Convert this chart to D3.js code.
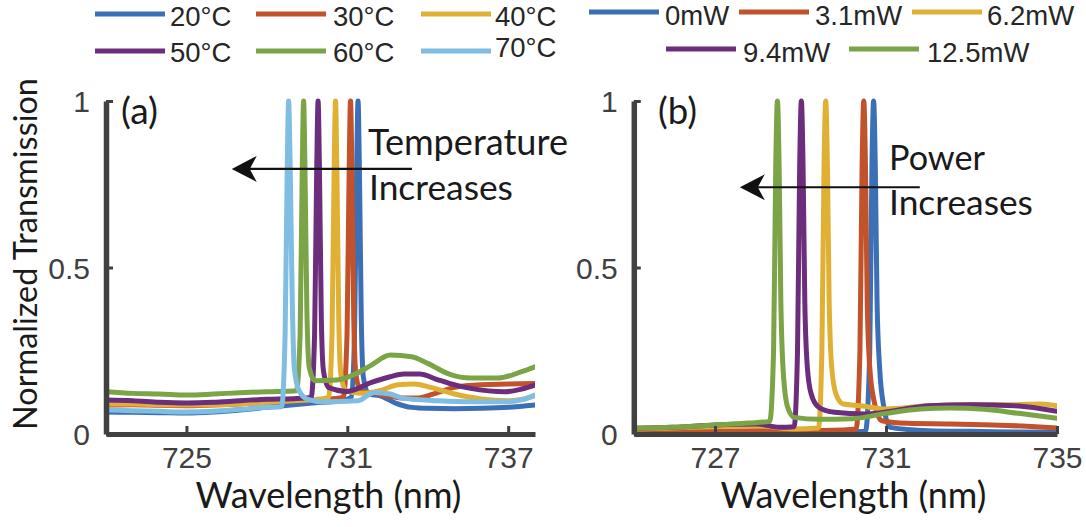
<!DOCTYPE html>
<html><head><meta charset="utf-8">
<script src="https://cdn.jsdelivr.net/npm/d3@7"></script>
<style>html,body{margin:0;padding:0;background:#fff;}svg{display:block;}</style>
</head><body>
<svg id="chart" width="1086" height="527"></svg>
<script>
// ---------- DATA ----------
const tempLabels = ["20°C","30°C","40°C","50°C","60°C","70°C"];
const powerLabels = ["0mW","3.1mW","6.2mW","9.4mW","12.5mW"];
const ticksA = [725, 731, 737];
const ticksB = [727, 731, 735];
const yTicks = [0, 0.5, 1];
const yTickLabels = ["0", "0.5", "1"];

// Panel (a): [wavelength nm, normalized transmission]
const t20 = [[722,0.066],[723,0.065],[724,0.064],[725,0.063],[726,0.066],[727,0.072],[728,0.08],[729,0.088],[730,0.095],[730.8,0.1],[731.15,0.11],[731.27,0.3],[731.35,0.8],[731.40,1.0],[731.45,0.8],[731.52,0.35],[731.6,0.17],[731.8,0.12],[732.2,0.115],[732.8,0.093],[733.4,0.08],[734,0.077],[735,0.076],[736,0.077],[737,0.08],[738,0.087]];
const t30 = [[722,0.087],[723,0.088],[724,0.086],[725,0.085],[726,0.087],[727,0.09],[728,0.095],[729,0.1],[730,0.103],[730.85,0.11],[730.99,0.3],[731.07,0.8],[731.12,1.0],[731.17,0.8],[731.24,0.35],[731.32,0.18],[731.5,0.13],[732,0.122],[732.5,0.115],[733,0.108],[733.6,0.108],[734.2,0.12],[735,0.14],[736,0.148],[737,0.15],[738,0.152]];
const t40 = [[722,0.09],[723,0.09],[724,0.088],[725,0.087],[726,0.088],[727,0.09],[728,0.095],[729,0.1],[730,0.105],[730.3,0.11],[730.43,0.3],[730.51,0.8],[730.56,1.0],[730.61,0.8],[730.68,0.35],[730.76,0.18],[730.95,0.13],[731.5,0.122],[732.2,0.13],[732.9,0.148],[733.5,0.15],[734.1,0.14],[735,0.12],[736,0.105],[737,0.1],[737.6,0.105],[738,0.115]];
const t50 = [[722,0.102],[723,0.1],[724,0.095],[725,0.093],[726,0.095],[727,0.1],[728,0.104],[729,0.106],[729.65,0.11],[729.78,0.3],[729.86,0.8],[729.91,1.0],[729.96,0.8],[730.03,0.35],[730.11,0.19],[730.3,0.14],[731,0.128],[731.9,0.155],[732.6,0.172],[733.1,0.18],[733.7,0.18],[734.3,0.165],[734.8,0.152],[735.6,0.137],[736.9,0.127],[737.5,0.135],[738,0.147]];
const t60 = [[722,0.127],[723,0.122],[724,0.12],[725,0.117],[726,0.12],[727,0.124],[728,0.127],[729.1,0.13],[729.24,0.3],[729.32,0.8],[729.37,1.0],[729.42,0.8],[729.49,0.38],[729.58,0.2],[729.8,0.16],[730.6,0.162],[731.3,0.18],[731.9,0.207],[732.6,0.237],[733.4,0.232],[734,0.212],[734.8,0.18],[735.6,0.168],[736.6,0.168],[737.5,0.187],[738,0.202]];
const t70 = [[722,0.072],[723,0.07],[724,0.068],[725,0.066],[726,0.068],[727,0.074],[728,0.08],[728.55,0.082],[728.68,0.3],[728.76,0.8],[728.81,1.0],[728.87,0.8],[728.94,0.43],[729.02,0.2],[729.2,0.13],[729.5,0.105],[730.1,0.097],[731.4,0.1],[732,0.125],[732.6,0.12],[733.1,0.107],[734.4,0.1],[735.6,0.097],[736.9,0.097],[737.6,0.105],[738,0.117]];

// Panel (b)
const p0 = [[725.1,0.003],[726,0.003],[727,0.004],[728,0.004],[729,0.005],[730,0.006],[730.52,0.008],[730.62,0.25],[730.67,0.8],[730.71,1.0],[730.75,0.8],[730.79,0.4],[730.85,0.2],[730.95,0.08],[731.1,0.02],[732,0.01],[733,0.008],[734,0.006],[735,0.005]];
const p31 = [[725.1,0.005],[726,0.006],[727,0.008],[728,0.01],[729,0.01],[730,0.012],[730.3,0.015],[730.39,0.25],[730.44,0.8],[730.48,1.0],[730.52,0.8],[730.56,0.4],[730.62,0.2],[730.72,0.1],[730.9,0.04],[731.5,0.032],[732.5,0.03],[733.5,0.027],[734.5,0.022],[735,0.018]];
const p62 = [[725.1,0.015],[726,0.018],[727,0.022],[728,0.025],[728.8,0.015],[729.42,0.018],[729.5,0.25],[729.55,0.8],[729.59,1.0],[729.63,0.8],[729.67,0.4],[729.73,0.2],[729.83,0.12],[730.0,0.09],[730.4,0.085],[731,0.075],[732,0.085],[733,0.088],[734,0.088],[734.6,0.09],[735,0.085]];
const p94 = [[725.1,0.017],[726,0.02],[727,0.027],[728,0.03],[728.5,0.02],[728.85,0.022],[728.93,0.25],[728.98,0.8],[729.02,1.0],[729.06,0.8],[729.1,0.4],[729.16,0.2],[729.25,0.12],[729.43,0.08],[729.8,0.065],[730.5,0.06],[731.2,0.07],[732,0.085],[733,0.088],[734,0.085],[735,0.068]];
const p125 = [[725.1,0.017],[726,0.02],[727,0.027],[727.8,0.033],[728.28,0.038],[728.37,0.25],[728.42,0.8],[728.46,1.0],[728.5,0.8],[728.54,0.4],[728.6,0.18],[728.7,0.08],[728.85,0.05],[729.45,0.044],[730.2,0.046],[731,0.062],[731.8,0.075],[732.5,0.078],[733.3,0.074],[734.1,0.062],[735,0.047]];

const seriesA = [t20, t30, t40, t50, t60, t70];
const seriesB = [p0, p31, p62, p94, p125];

// ---------- STYLE ----------
const colors = ["#3b6fb6", "#c1522b", "#e0b035", "#6b2d7c", "#7aa445", "#7fbde3"];
const svg = d3.select("#chart");
const tickFont = "'Liberation Sans', Arial, sans-serif";
const annFont = "Lato, 'Open Sans', sans-serif";
const axisColor = "#404040";

const y = d3.scaleLinear().domain([0, 1]).range([434, 101]);
const xA = d3.scaleLinear().domain([722, 738]).range([106, 535]);
const xB = d3.scaleLinear().domain([725.1, 735]).range([633.8, 1057]);

function fit(sel, w) {
  const l = sel.node().getComputedTextLength();
  const fs = parseFloat(sel.attr("font-size"));
  sel.attr("font-size", (fs * w / l).toFixed(2));
}

function panel(x, xTicks, series, clipId) {
  const g = svg.append("g");
  svg.append("clipPath").attr("id", clipId).append("rect")
    .attr("x", x.range()[0]).attr("y", y(1) - 4)
    .attr("width", x.range()[1] - x.range()[0]).attr("height", y(0) - y(1) + 4);
  const line = d3.line().x(d => x(d[0])).y(d => y(d[1])).curve(d3.curveMonotoneX);
  const lg = g.append("g").attr("clip-path", `url(#${clipId})`);
  series.forEach((s, i) => {
    lg.append("path").datum(s).attr("d", line)
      .attr("fill", "none").attr("stroke", colors[i])
      .attr("stroke-width", 5).attr("stroke-linejoin", "round").attr("stroke-linecap", "round");
  });
  // x axis
  const ax = g.append("g").attr("transform", `translate(0,${y(0)})`)
    .call(d3.axisBottom(x).tickValues(xTicks).tickFormat(d3.format("d")).tickSizeInner(-8).tickSizeOuter(0).tickPadding(20));
  ax.select(".domain").attr("stroke", axisColor).attr("stroke-width", 5);
  ax.selectAll(".tick line").attr("stroke", axisColor).attr("stroke-width", 3);
  ax.selectAll(".tick text").attr("font-family", tickFont).attr("font-size", 30).attr("fill", axisColor)
    .attr("dy", null).attr("y", 34);
  // y axis
  const ay = g.append("g").attr("transform", `translate(${x.range()[0]},0)`)
    .call(d3.axisLeft(y).tickValues(yTicks).tickFormat((d, i) => yTickLabels[i]).tickSizeInner(-7).tickSizeOuter(0).tickPadding(16));
  ay.select(".domain").attr("stroke", axisColor).attr("stroke-width", 5.5);
  ay.selectAll(".tick line").attr("stroke", axisColor).attr("stroke-width", 3);
  ay.selectAll(".tick text").attr("font-family", tickFont).attr("font-size", 30).attr("fill", axisColor).attr("dy", "0.36em");
  // x label
  const xl = svg.append("text").text("Wavelength (nm)")
    .attr("x", (x.range()[0] + x.range()[1]) / 2 + 8).attr("y", 508)
    .attr("text-anchor", "middle").attr("font-family", annFont).attr("font-size", 34).attr("fill", "#1a1a1a");
  fit(xl, 266);
  return g;
}

panel(xA, ticksA, seriesA, "clipA");
panel(xB, ticksB, seriesB, "clipB");

// y label
const yl = svg.append("text").text("Normalized Transmission")
  .attr("transform", "translate(37,254) rotate(-90)")
  .attr("text-anchor", "middle").attr("font-family", annFont).attr("font-size", 32).attr("fill", "#1a1a1a");
fit(yl, 352);

// panel letters & annotations
function ann(txt, xx, yy, w) {
  const t = svg.append("text").text(txt).attr("x", xx).attr("y", yy)
    .attr("font-family", annFont).attr("font-size", 30).attr("fill", "#1a1a1a");
  fit(t, w);
  return t;
}
ann("(a)", 121, 124, 37);
ann("(b)", 658, 124, 39);
ann("Temperature", 368, 155, 200);
ann("Increases", 369, 200, 144);
ann("Power", 889, 170, 96);
ann("Increases", 889, 215, 144);

function arrow(x, x1, x2, v) {
  const yy = y(v), tip = x(x2), tail = x(x1);
  svg.append("line").attr("x1", tail).attr("x2", tip + 10).attr("y1", yy).attr("y2", yy)
    .attr("stroke", "#111").attr("stroke-width", 2.2);
  svg.append("path")
    .attr("d", `M${tip},${yy} L${tip + 25},${yy - 13} L${tip + 18},${yy} L${tip + 25},${yy + 13} Z`)
    .attr("fill", "#111");
}
arrow(xA, 733.41, 726.69, 0.796);
arrow(xB, 731.79, 727.58, 0.741);

// legends
function legend(labels, cols, items) {
  labels.forEach((lab, i) => {
    const it = items[i];
    svg.append("line").attr("x1", it[0]).attr("x2", it[0] + 70).attr("y1", it[1]).attr("y2", it[1])
      .attr("stroke", cols[i]).attr("stroke-width", 5);
    svg.append("text").text(lab).attr("x", it[2]).attr("y", it[3])
      .attr("font-family", tickFont).attr("font-size", 27.5).attr("fill", "#262626");
  });
}
legend(tempLabels, colors, [[95,14,170,25.5],[256,14,333,25.5],[421,14,495,25.5],[95,51,170,61.5],[256,51,333,61.5],[421,51,495,57]]);
legend(powerLabels, colors, [[589,12,665,25],[739,12,815,25],[912,12,987,25],[666,49,743,61.5],[849,49,927,61.5]]);
</script>
</body></html>
